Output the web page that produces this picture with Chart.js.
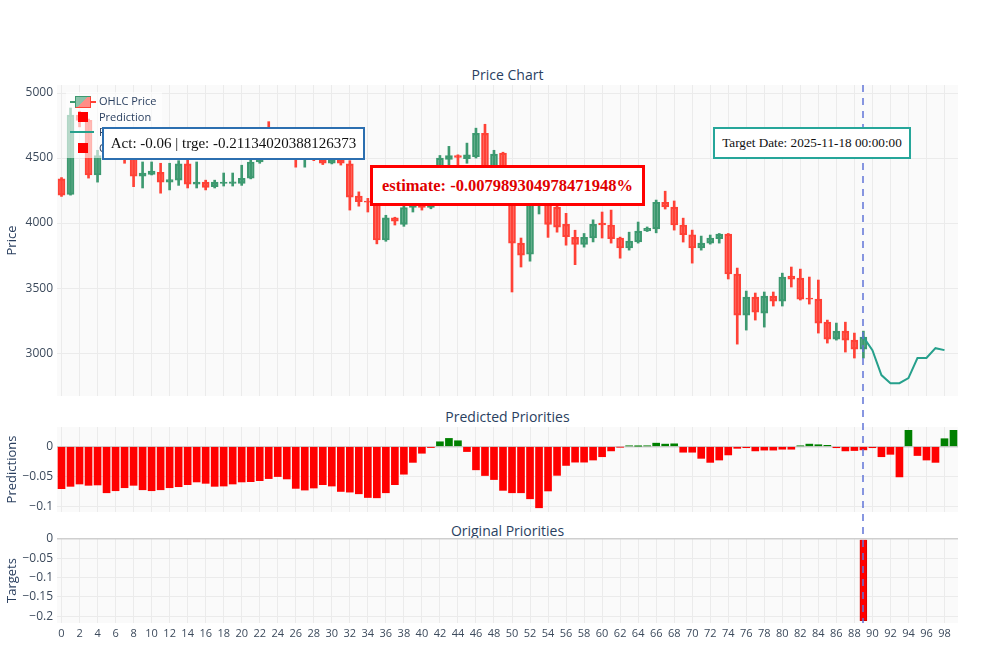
<!DOCTYPE html>
<html>
<head>
<meta charset="utf-8">
<title>Price Chart</title>
<script src="https://cdn.jsdelivr.net/npm/chart.js@4.4.1/dist/chart.umd.min.js"></script>
<style>
  body { margin: 0; background: #fff; font-family: "Open Sans", sans-serif; }
  #page { position: relative; width: 1000px; height: 667px; overflow: hidden; }
  .plot { position: absolute; left: 0; width: 1000px; }
  .title { position: absolute; left: 57px; width: 901px; text-align: center; font-size: 14px; line-height: 18px; color: #2a3f5f; }
  .note { position: absolute; box-sizing: border-box; background: #fff; display: flex; align-items: center; justify-content: center;
          font-family: "Liberation Serif", "Times New Roman", serif; white-space: nowrap; color: #111; }
  #legend { position: absolute; left: 66px; top: 92px; width: 96px; height: 66px; background: rgba(255,255,255,0.6);
            font-size: 11px; color: #2a3f5f; }
  .lg { position: absolute; left: 0; height: 14px; line-height: 14px; padding-left: 33px; white-space: nowrap; }
  .ico { position: absolute; top: 2px; }
  .ohlc { left: 9px; width: 14px; height: 10px; border: 1px solid #3D9970; border-right-color: #FF4136; border-bottom-color: #FF4136;
          background: linear-gradient(135deg, rgba(61,153,112,0.6) 50%, rgba(255,65,54,0.6) 50%); }
  .ohlc:before { content: ""; position: absolute; left: -6px; top: 4px; width: 6px; height: 2px; background: #3D9970; }
  .ohlc:after { content: ""; position: absolute; right: -6px; top: 4px; width: 6px; height: 2px; background: #FF4136; }
  .sq { left: 12px; width: 10px; height: 10px; top: 2px; background: #ff0000; }
  .ln { left: 4px; width: 24px; height: 2px; top: 6px; background: #26a08c; }
  #target-line { position: absolute; width: 2px; background: repeating-linear-gradient(to bottom, rgba(95,115,215,0.75) 0 7px, transparent 7px 13px); }
</style>
</head>
<body>
<div id="page">
  <div class="title" style="top:66px">Price Chart</div>
  <div class="title" style="top:408px">Predicted Priorities</div>
  <div class="title" style="top:522px">Original Priorities</div>

  <div class="plot" style="top:75px;height:321px"><canvas id="priceChart"></canvas></div>
  <div class="plot" style="top:417px;height:95px"><canvas id="predChart"></canvas></div>
  <div class="plot" style="top:528px;height:120px"><canvas id="targetChart"></canvas></div>

  <div id="target-line"></div>

  <div id="legend">
    <div class="lg" style="top:2px"><span class="ico ohlc"></span>OHLC Price</div>
    <div class="lg" style="top:18px"><span class="ico sq"></span>Prediction</div>
    <div class="lg" style="top:33px"><span class="ico ln"></span>Future Price</div>
    <div class="lg" style="top:49px"><span class="ico sq"></span>Original Priorities</div>
  </div>

  <div class="note" style="left:102px;top:127px;width:263px;height:33px;border:2.5px solid #2c6fb0;font-size:15px;">Act: -0.06 | trge: -0.21134020388126373</div>
  <div class="note" style="left:370px;top:165px;width:275px;height:41px;border:3.5px solid #ff0000;font-size:16.5px;font-weight:bold;color:#e00000;">estimate: -0.007989304978471948%</div>
  <div class="note" style="left:713px;top:127px;width:198px;height:32px;border:2.5px solid #26a69a;font-size:13.2px;">Target Date: 2025-11-18 00:00:00</div>
</div>

<script>
// OHLC candles, one per day index 0..89
const opens  = [4340, 4220, 4830, 4790, 4370, 4520, 4560, 4600, 4500, 4360,
                4375, 4390, 4315, 4330, 4455, 4300, 4315, 4280, 4305, 4305,
                4305, 4346, 4470, 4650, 4600, 4540, 4580, 4490, 4520, 4485,
                4460, 4490, 4455, 4208, 4170, 4170, 3870, 4040, 3990, 4120,
                4180, 4120, 4300, 4490, 4520, 4495, 4510, 4690, 4420, 4538,
                4280, 3846, 3760, 4170, 4250, 4123, 3990, 3890, 3835, 3885,
                4000, 3985, 3885, 3808, 3855, 3940, 3955, 4160, 4123, 3985,
                3910, 3808, 3846, 3880, 3915, 3608, 3292, 3431, 3308, 3438,
                3400, 3592, 3577, 3423, 3415, 3238, 3108, 3169, 3100, 3031];
const highs  = [4350, 4885, 4860, 4800, 4560, 4600, 4640, 4640, 4540, 4470,
                4470, 4460, 4460, 4480, 4490, 4470, 4330, 4330, 4385, 4385,
                4445, 4500, 4680, 4780, 4640, 4620, 4600, 4560, 4540, 4520,
                4520, 4520, 4480, 4240, 4190, 4200, 4060, 4045, 4200, 4200,
                4200, 4320, 4520, 4590, 4525, 4615, 4730, 4760, 4560, 4545,
                4300, 3885, 4200, 4300, 4270, 4140, 4075, 3945, 3920, 4025,
                4085, 4100, 3892, 3930, 4008, 3970, 4177, 4245, 4170, 4038,
                3946, 3900, 3908, 3920, 3920, 3654, 3477, 3462, 3470, 3470,
                3615, 3662, 3646, 3585, 3562, 3254, 3231, 3238, 3154, 3169];
const lows   = [4205, 4215, 4740, 4346, 4315, 4500, 4520, 4460, 4280, 4270,
                4370, 4230, 4255, 4290, 4270, 4270, 4255, 4270, 4285, 4285,
                4290, 4340, 4460, 4560, 4520, 4500, 4430, 4430, 4480, 4450,
                4455, 4446, 4100, 4130, 4085, 3840, 3860, 3985, 3975, 4085,
                4100, 4110, 4290, 4440, 4445, 4460, 4500, 4380, 4400, 4250,
                3470, 3662, 3707, 4070, 3890, 3930, 3830, 3680, 3815, 3855,
                3885, 3846, 3730, 3792, 3846, 3935, 3925, 4108, 3946, 3854,
                3692, 3792, 3838, 3846, 3570, 3069, 3177, 3254, 3200, 3362,
                3362, 3508, 3408, 3377, 3154, 3077, 3100, 3008, 2962, 2962];
const closes = [4215, 4830, 4790, 4370, 4520, 4560, 4600, 4510, 4360, 4385,
                4400, 4315, 4335, 4455, 4300, 4315, 4275, 4315, 4315, 4318,
                4345, 4470, 4650, 4600, 4540, 4580, 4490, 4520, 4495, 4460,
                4485, 4460, 4200, 4165, 4160, 3870, 4040, 4015, 4120, 4180,
                4120, 4300, 4500, 4520, 4505, 4525, 4690, 4420, 4530, 4280,
                3846, 3754, 4180, 4260, 3990, 3969, 3895, 3835, 3890, 3990,
                3985, 3880, 3808, 3862, 3938, 3960, 4160, 4125, 3985, 3910,
                3808, 3846, 3885, 3915, 3608, 3292, 3431, 3315, 3438, 3400,
                3585, 3569, 3415, 3415, 3231, 3108, 3169, 3100, 3031, 3123];

const futureDays  = [89, 90, 91, 92, 93, 94, 95, 96, 97, 98];
const futurePrice = [3123, 3023, 2831, 2769, 2769, 2808, 2962, 2962, 3038, 3023];

// predicted priorities, day index 0..99
const predictions = [-0.0702, -0.0663, -0.0624, -0.0646, -0.064, -0.077, -0.0736, -0.0686, -0.0646, -0.072,
                     -0.0736, -0.072, -0.0686, -0.0669, -0.0635, -0.059, -0.0613, -0.0663, -0.0658, -0.0624,
                     -0.059, -0.0585, -0.0568, -0.0534, -0.05, -0.054, -0.0697, -0.0725, -0.0691, -0.0635,
                     -0.0658, -0.0748, -0.0759, -0.0787, -0.0849, -0.0854, -0.077, -0.0635, -0.0461, -0.0264,
                     -0.0112, -0.0017, 0.0079, 0.0135, 0.0096, -0.0084, -0.0388, -0.0483, -0.055, -0.073,
                     -0.077, -0.077, -0.087, -0.102, -0.074, -0.048, -0.0315, -0.026, -0.026, -0.0225,
                     -0.017, -0.0073, -0.001, 0.001, 0.0005, 0.001, 0.0056, 0.004, 0.0045, -0.0095,
                     -0.0095, -0.0197, -0.0264, -0.0225, -0.014, -0.003, -0.002, -0.0073, -0.006, -0.006,
                     -0.0045, -0.0045, 0.001, 0.004, 0.003, 0.002, -0.002, -0.0073, -0.0067, -0.0056,
                     -0.002, -0.017, -0.013, -0.0506, 0.027, -0.015, -0.0225, -0.0264, 0.013, 0.027];

const targetDay = 89;
const targetValue = -0.21134020388126373;

const xTicks = [0, 2, 4, 6, 8, 10, 12, 14, 16, 18, 20, 22, 24, 26, 28, 30, 32, 34, 36, 38,
                40, 42, 44, 46, 48, 50, 52, 54, 56, 58, 60, 62, 64, 66, 68, 70, 72, 74, 76, 78,
                80, 82, 84, 86, 88, 90, 92, 94, 96, 98];
const priceTicks  = [3000, 3500, 4000, 4500, 5000];
const predTicks   = [0, -0.05, -0.1];
const targetTicks = [0, -0.05, -0.1, -0.15, -0.2];

const UP = '#3D9970', DOWN = '#FF4136';
const UP_FILL = 'rgba(61,153,112,0.55)', DOWN_FILL = 'rgba(255,65,54,0.55)';
const GRID = '#ebebeb';
const TICK_COLOR = '#3c4a5c';

function fmt(v) {
    return String(v).replace('-', '\u2212');
}

// light plot background like plotly
const plotBg = {
    id: 'plotBg',
    beforeDraw(chart) {
        const a = chart.chartArea, ctx = chart.ctx;
        ctx.save();
        ctx.fillStyle = '#fafafa';
        ctx.fillRect(a.left, a.top, a.width, a.height);
        ctx.restore();
    }
};

function noPad(s) {
    s.paddingTop = 0; s.paddingBottom = 0; s.paddingLeft = 0; s.paddingRight = 0;
}

function xScale(showLabels) {
    return {
        type: 'linear', min: -0.5, max: 99.5, offset: false,
        afterBuildTicks: s => { s.ticks = xTicks.map(v => ({ value: v })); },
        afterFit: s => { s.height = showLabels ? 25 : 0; noPad(s); },
        grid: { color: GRID, drawTicks: false, offset: false },
        border: { display: false },
        ticks: { display: showLabels, autoSkip: false, maxRotation: 0, padding: 4, color: TICK_COLOR, font: { size: 11 } }
    };
}

function yScale(title, min, max, tickValues) {
    return {
        min: min, max: max,
        afterBuildTicks: s => { s.ticks = tickValues.map(v => ({ value: v })); },
        afterFit: s => { s.width = 57; noPad(s); },
        title: { display: true, text: title, color: '#2a3f5f', font: { size: 13 }, padding: { top: 4, bottom: 0 } },
        grid: {
            drawTicks: false,
            color: c => (c.tick && c.tick.value === 0 && title !== 'Price') ? '#cfcfcf' : GRID,
            lineWidth: c => (c.tick && c.tick.value === 0 && title !== 'Price') ? 1.5 : 1
        },
        border: { display: false },
        ticks: { padding: 4, color: TICK_COLOR, font: { size: 12 }, callback: v => fmt(v) }
    };
}

const baseOptions = () => ({
    responsive: true,
    maintainAspectRatio: false,
    animation: false,
    layout: { padding: { top: 10, right: 42, left: 0, bottom: 0 } },
    plugins: { legend: { display: false }, tooltip: { enabled: false } }
});

Chart.defaults.font.family = '"Open Sans", sans-serif';

const isUp = opens.map((o, i) => closes[i] >= o);

// price chart: wicks + bodies as floating bars, future price as a line
const priceOpts = baseOptions();
priceOpts.scales = { x: xScale(false), y: yScale('Price', 2670, 5062, priceTicks) };

const priceChart = new Chart(document.getElementById('priceChart'), {
    type: 'bar',
    data: {
        datasets: [
            {
                label: 'OHLC Price body',
                data: opens.map((o, i) => ({ x: i, y: [o, closes[i]] })),
                backgroundColor: isUp.map(u => u ? UP_FILL : DOWN_FILL),
                borderColor: isUp.map(u => u ? UP : DOWN),
                borderWidth: 1.5,
                borderSkipped: false,
                barThickness: 7,
                grouped: false,
                order: 1
            },
            {
                label: 'OHLC Price wick',
                data: highs.map((h, i) => ({ x: i, y: [lows[i], h] })),
                backgroundColor: isUp.map(u => u ? UP : DOWN),
                borderWidth: 0,
                barThickness: 2,
                grouped: false,
                order: 2
            },
            {
                type: 'line',
                label: 'Future Price',
                data: futureDays.map((d, i) => ({ x: d, y: futurePrice[i] })),
                borderColor: '#26a08c',
                borderWidth: 2,
                pointRadius: 0,
                tension: 0,
                order: 0
            }
        ]
    },
    options: priceOpts,
    plugins: [plotBg]
});

const predOpts = baseOptions();
predOpts.scales = { x: xScale(false), y: yScale('Predictions', -0.109, 0.0325, predTicks) };

new Chart(document.getElementById('predChart'), {
    type: 'bar',
    data: {
        datasets: [{
            label: 'Prediction',
            data: predictions.map((v, i) => ({ x: i, y: v })),
            backgroundColor: predictions.map(v => v >= 0 ? '#008000' : '#ff0000'),
            barThickness: 7
        }]
    },
    options: predOpts,
    plugins: [plotBg]
});

const targetOpts = baseOptions();
targetOpts.scales = { x: xScale(true), y: yScale('Targets', -0.2176, 0.0026, targetTicks) };

new Chart(document.getElementById('targetChart'), {
    type: 'bar',
    data: {
        datasets: [{
            label: 'Original Priorities',
            data: [{ x: targetDay, y: targetValue }],
            backgroundColor: '#ff0000',
            borderColor: '#d40000',
            borderWidth: 1,
            barThickness: 7
        }]
    },
    options: targetOpts,
    plugins: [plotBg]
});

// dashed marker at the target date, across all three panels
const line = document.getElementById('target-line');
const px = priceChart.scales.x.getPixelForValue(targetDay);
line.style.left = (px - 1) + 'px';
line.style.top = (75 + priceChart.chartArea.top) + 'px';
line.style.height = (623 - 75 - priceChart.chartArea.top) + 'px';
</script>
</body>
</html>
